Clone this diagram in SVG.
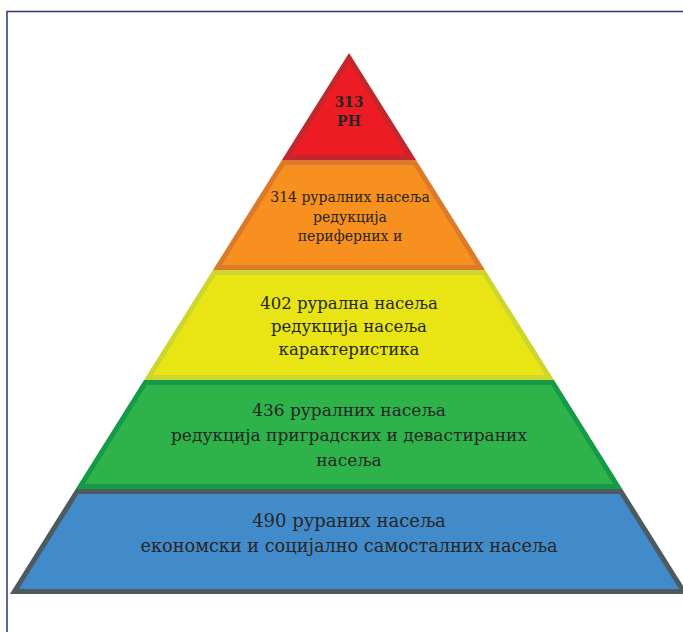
<svg xmlns="http://www.w3.org/2000/svg" width="683" height="632" viewBox="0 0 683 632">
<style>
.lay{stroke-width:5;stroke-linejoin:miter}
.t{font-family:"DejaVu Serif","Liberation Serif",serif;fill:#262626;text-anchor:middle}
</style>
<rect width="683" height="632" fill="#ffffff"/>
<rect x="7" y="11.5" width="700" height="700" fill="none" stroke="#2a3673" stroke-width="1.5"/>
<g id="layer-red">
<polygon class="lay" points="349,57.7 411.6,157.5 286.4,157.5" fill="#ed1c24" stroke="#c1272d"/>
<text class="t" x="349" y="107" font-size="14" font-weight="bold">313</text>
<text class="t" x="349" y="125.5" font-size="14" font-weight="bold">PH</text>
</g>
<g id="layer-orange">
<polygon class="lay" points="283.3,162.5 414.7,162.5 480.5,267.5 217.5,267.5" fill="#f7901e" stroke="#db7a2a"/>
<text class="t" x="350" y="202" font-size="14">314 руралних насеља</text>
<text class="t" x="350" y="221.5" font-size="14">редукција</text>
<text class="t" x="350" y="241" font-size="14">периферних и</text>
</g>
<g id="layer-yellow">
<polygon class="lay" points="214.3,272.5 483.7,272.5 549.5,377.5 148.5,377.5" fill="#e9e515" stroke="#cdd52f"/>
<text class="t" x="349" y="309" font-size="16.5">402 рурална насеља</text>
<text class="t" x="349" y="332" font-size="16.5">редукција насеља</text>
<text class="t" x="349" y="355" font-size="16.5">карактеристика</text>
</g>
<g id="layer-green">
<polygon class="lay" points="145.4,382.5 552.6,382.5 617.8,486.5 80.2,486.5" fill="#2eb34b" stroke="#169a48"/>
<text class="t" x="349" y="416" font-size="17">436 руралних насеља</text>
<text class="t" x="349" y="441" font-size="17">редукција приградских и девастираних</text>
<text class="t" x="349" y="466" font-size="17">насеља</text>
</g>
<g id="layer-blue">
<polygon class="lay" points="77.1,491.5 620.9,491.5 683.6,591.5 14.4,591.5" fill="#428bca" stroke="#4d5b60"/>
<text class="t" x="349" y="527" font-size="18">490 рураних насеља</text>
<text class="t" x="349" y="552" font-size="17.7">економски и социјално самосталних насеља</text>
</g>
<g id="connectors"/>
</svg>
